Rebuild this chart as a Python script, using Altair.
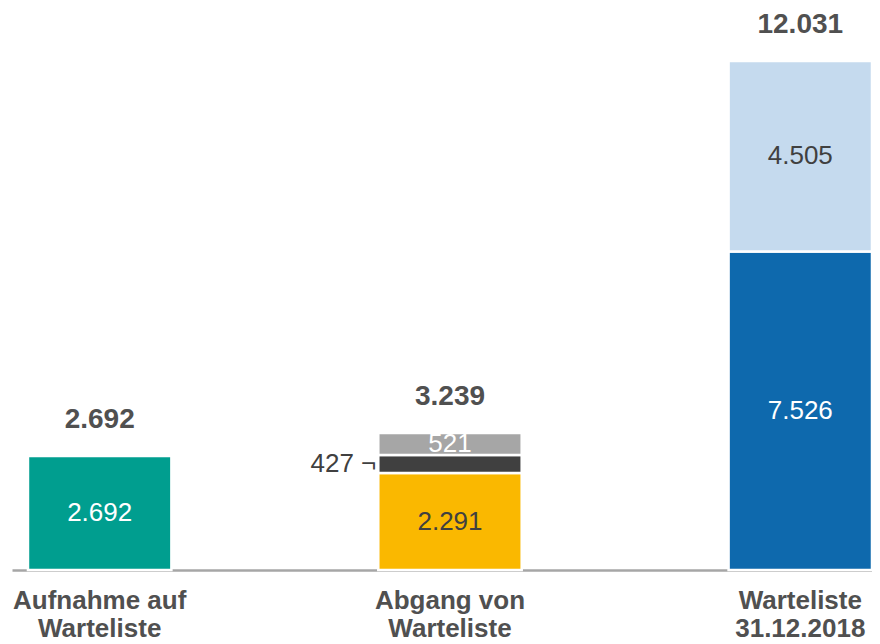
import altair as alt
import pandas as pd

# ---- data ----
categories = ["Aufnahme auf\nWarteliste", "Abgang von\nWarteliste", "Warteliste\n31.12.2018"]
seg_category = [0, 1, 1, 1, 2, 2]
seg_name = ["Aufnahme", "Abgang 1", "Abgang 2", "Abgang 3", "Warteliste 1", "Warteliste 2"]
seg_value = [2692, 2291, 427, 521, 7526, 4505]
seg_inside = [True, True, False, True, True, True]

# ---- styles ----
seg_colors = {
    "Aufnahme": "#009E8F",
    "Abgang 1": "#FAB800",
    "Abgang 2": "#404040",
    "Abgang 3": "#A6A6A6",
    "Warteliste 1": "#0E69AD",
    "Warteliste 2": "#C5DAEE",
}
label_colors = {
    "Aufnahme": "#FFFFFF",
    "Abgang 1": "#404040",
    "Abgang 2": "#404040",
    "Abgang 3": "#FFFFFF",
    "Warteliste 1": "#FFFFFF",
    "Warteliste 2": "#404040",
}
FONT = "Liberation Sans"


def fmt(v):
    return f"{v:,}".replace(",", ".")


rows = []
cum = {}
for c, n, v, ins in zip(seg_category, seg_name, seg_value, seg_inside):
    cat = categories[c]
    y0 = cum.get(cat, 0)
    y1 = y0 + v
    cum[cat] = y1
    rows.append(dict(cat=cat, name=n, value=v, y0=y0, y1=y1, mid=(y0 + y1) / 2,
                     label=fmt(v), outside_label=fmt(v) + " \u00ac",
                     inside=ins, lcolor=label_colors[n]))
df = pd.DataFrame(rows)

tot = pd.DataFrame({"cat": list(cum.keys()), "total": list(cum.values())})
tot["label"] = tot["total"].apply(fmt)

xscale = alt.Scale(paddingInner=0.5906, paddingOuter=0.0228, align=1)
x = alt.X("cat:N", sort=categories, scale=xscale,
          axis=alt.Axis(title=None, labelExpr="split(datum.label, '\\n')",
                        labelFont=FONT, labelFontSize=26, labelFontWeight="bold",
                        labelColor="#505050", labelLineHeight=28, labelPadding=17,
                        labelAngle=0, labelLimit=0, ticks=False,
                        domainColor="#A6A6A6", domainWidth=2.5))
yscale = alt.Scale(domain=[0, 13283], nice=False, zero=True)

bars = alt.Chart(df).mark_bar(stroke="white", strokeWidth=2.5).encode(
    x=x,
    y=alt.Y("y0:Q", scale=yscale, axis=None),
    y2="y1:Q",
    color=alt.Color("name:N", scale=alt.Scale(domain=list(seg_colors.keys()),
                                              range=list(seg_colors.values())),
                    legend=None),
)

inside = alt.Chart(df).transform_filter("datum.inside").mark_text(
    font=FONT, fontSize=26, baseline="middle"
).encode(
    x=alt.X("cat:N", sort=categories),
    y=alt.Y("mid:Q"),
    text="label:N",
    color=alt.Color("lcolor:N", scale=None),
)

outside = alt.Chart(df).transform_filter("!datum.inside").mark_text(
    font=FONT, fontSize=26, baseline="middle", align="right", dx=-2, color="#404040"
).encode(
    x=alt.X("cat:N", sort=categories, bandPosition=0),
    y=alt.Y("mid:Q"),
    text="outside_label:N",
)

totals = alt.Chart(tot).mark_text(
    font=FONT, fontSize=28, fontWeight="bold", baseline="middle", dy=-36, color="#505050"
).encode(
    x=alt.X("cat:N", sort=categories),
    y=alt.Y("total:Q"),
    text="label:N",
)

chart = alt.layer(bars, inside, outside, totals).properties(
    width=860, height=562,
    autosize=alt.AutoSizeParams(type="none"),
    padding={"left": 4, "top": 0, "right": 0, "bottom": 74},
).configure_view(strokeWidth=0)

chart.save("out.html", embed_options={"renderer": "svg", "actions": False})
